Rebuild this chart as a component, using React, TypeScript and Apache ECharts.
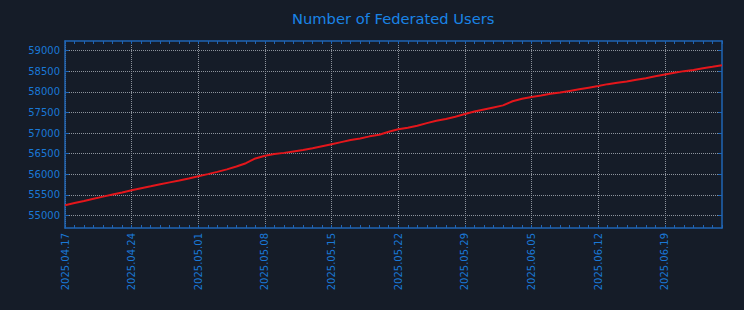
import React, { useEffect, useRef } from "react";
import * as echarts from "echarts";

const dates: string[] = [
  "2025.04.17", "2025.04.18", "2025.04.19", "2025.04.20", "2025.04.21", "2025.04.22", "2025.04.23",
  "2025.04.24", "2025.04.25", "2025.04.26", "2025.04.27", "2025.04.28", "2025.04.29", "2025.04.30",
  "2025.05.01", "2025.05.02", "2025.05.03", "2025.05.04", "2025.05.05", "2025.05.06", "2025.05.07",
  "2025.05.08", "2025.05.09", "2025.05.10", "2025.05.11", "2025.05.12", "2025.05.13", "2025.05.14",
  "2025.05.15", "2025.05.16", "2025.05.17", "2025.05.18", "2025.05.19", "2025.05.20", "2025.05.21",
  "2025.05.22", "2025.05.23", "2025.05.24", "2025.05.25", "2025.05.26", "2025.05.27", "2025.05.28",
  "2025.05.29", "2025.05.30", "2025.05.31", "2025.06.01", "2025.06.02", "2025.06.03", "2025.06.04",
  "2025.06.05", "2025.06.06", "2025.06.07", "2025.06.08", "2025.06.09", "2025.06.10", "2025.06.11",
  "2025.06.12", "2025.06.13", "2025.06.14", "2025.06.15", "2025.06.16", "2025.06.17", "2025.06.18",
  "2025.06.19", "2025.06.20", "2025.06.21", "2025.06.22", "2025.06.23", "2025.06.24", "2025.06.25",
];

const users: number[] = [
  55250, 55305, 55355, 55410, 55460, 55510, 55560,
  55615, 55665, 55710, 55760, 55805, 55850, 55900,
  55955, 56005, 56060, 56120, 56190, 56270, 56385,
  56450, 56490, 56520, 56555, 56590, 56630, 56680,
  56730, 56780, 56830, 56870, 56920, 56960, 57030,
  57090, 57130, 57175, 57240, 57300, 57340, 57395,
  57460, 57520, 57570, 57620, 57670, 57770, 57830,
  57875, 57910, 57950, 57980, 58020, 58060, 58100,
  58140, 58185, 58220, 58250, 58290, 58330, 58375,
  58420, 58460, 58500, 58530, 58570, 58605, 58645,
];

const yTicks: number[] = [55000, 55500, 56000, 56500, 57000, 57500, 58000, 58500, 59000];

const TITLE = "Number of Federated Users";

export default function App() {
  const ref = useRef<HTMLDivElement>(null);
  useEffect(() => {
    if (!ref.current) return;
    const chart = echarts.init(ref.current, null, { renderer: "svg" });
    const blue = "#1a78d6";
    const frame = "#1f64b4";
    const grid = { type: "dotted" as const, color: "#8d939c", width: 1 };
    const font = "DejaVu Sans";
    const yMin = 54700;
    const yMax = 59230;
    chart.setOption({
      animation: false,
      backgroundColor: "#151c28",
      title: {
        text: TITLE,
        left: 287,
        top: 6,
        textStyle: { color: "#1a84e6", fontSize: 14.7, fontWeight: "normal", fontFamily: font },
      },
      grid: { left: 65, right: 22, top: 41, bottom: 82, containLabel: false },
      xAxis: [
        {
          type: "category",
          data: dates,
          boundaryGap: false,
          position: "bottom",
          axisLine: { show: true, lineStyle: { color: frame, width: 1.5 } },
          axisTick: { show: true, inside: true, interval: 0, length: 3, lineStyle: { color: frame } },
          axisLabel: {
            interval: 6,
            rotate: 90,
            margin: 5,
            color: blue,
            fontSize: 10,
            fontFamily: font,
          },
          splitLine: { show: true, interval: 6, lineStyle: grid },
        },
        {
          type: "category",
          data: dates,
          boundaryGap: false,
          position: "top",
          axisLine: { show: true, lineStyle: { color: frame, width: 1.5 } },
          axisTick: { show: true, inside: true, interval: 0, length: 3, lineStyle: { color: frame } },
          axisLabel: { show: false },
          splitLine: { show: false },
        },
      ],
      yAxis: [
        {
          type: "value",
          min: yMin,
          max: yMax,
          position: "left",
          axisLine: { show: true, lineStyle: { color: frame, width: 1.5 } },
          axisTick: { show: true, inside: true, length: 4, customValues: yTicks, lineStyle: { color: frame } },
          axisLabel: {
            customValues: yTicks,
            formatter: (v: number) => String(v),
            margin: 5,
            color: blue,
            fontSize: 10,
            fontFamily: font,
          },
          splitLine: { show: true, lineStyle: grid },
        },
        {
          type: "value",
          min: yMin,
          max: yMax,
          position: "right",
          axisLine: { show: true, lineStyle: { color: frame, width: 1.5 } },
          axisTick: { show: true, inside: true, length: 4, customValues: yTicks, lineStyle: { color: frame } },
          axisLabel: { show: false },
          splitLine: { show: false },
        },
      ],
      series: [
        {
          type: "line",
          data: users,
          xAxisIndex: 0,
          yAxisIndex: 0,
          showSymbol: false,
          smooth: false,
          lineStyle: { color: "#e4161b", width: 2 },
        },
      ],
    });
    return () => chart.dispose();
  }, []);
  return <div ref={ref} style={{ position: "fixed", left: 0, top: 0, width: 744, height: 310 }} />;
}
